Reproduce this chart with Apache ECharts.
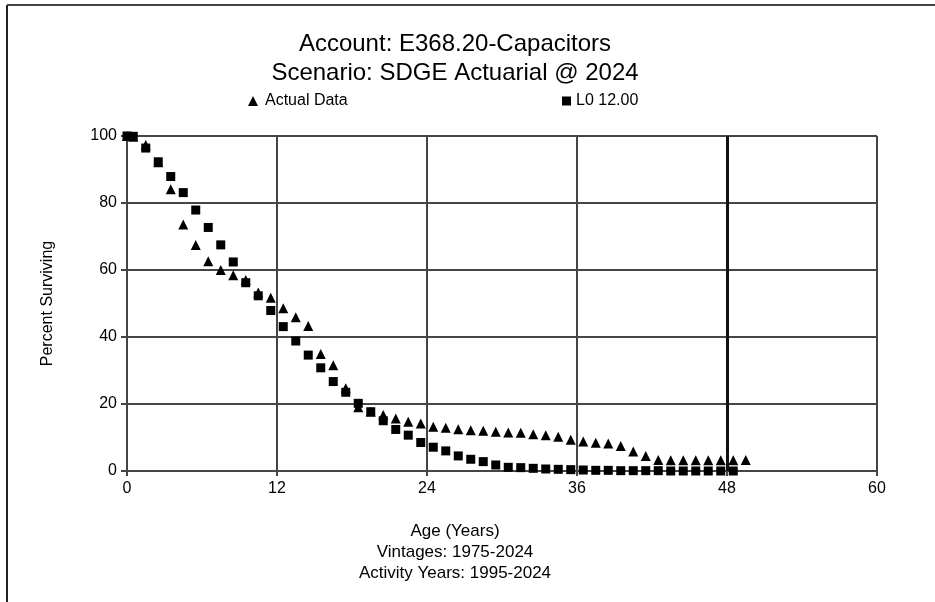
<!DOCTYPE html>
<html>
<head>
<meta charset="utf-8">
<script src="https://cdn.jsdelivr.net/npm/echarts@6/dist/echarts.min.js"></script>
<style>
  html, body { margin: 0; padding: 0; background: #fff; }
  #chart { width: 935px; height: 602px; }
</style>
</head>
<body>
<div id="chart"></div>
<script>
// Observed survivorship (placement band ages, years)
const actualAges = [0, 0.5, 1.5, 2.5, 3.5, 4.5, 5.5, 6.5, 7.5, 8.5, 9.5, 10.5, 11.5, 12.5, 13.5, 14.5,
  15.5, 16.5, 17.5, 18.5, 19.5, 20.5, 21.5, 22.5, 23.5, 24.5, 25.5, 26.5, 27.5, 28.5, 29.5, 30.5,
  31.5, 32.5, 33.5, 34.5, 35.5, 36.5, 37.5, 38.5, 39.5, 40.5, 41.5, 42.5, 43.5, 44.5, 45.5, 46.5,
  47.5, 48.5, 49.5];
const actualPct = [100, 99.8, 97.3, 92.2, 84.1, 73.6, 67.5, 62.6, 60.0, 58.4, 57.0, 53.3, 51.7, 48.6, 45.9, 43.3,
  34.9, 31.6, 24.7, 19.0, 17.7, 16.7, 15.7, 14.7, 14.2, 13.2, 12.9, 12.5, 12.2, 12.0, 11.7, 11.5,
  11.4, 11.0, 10.7, 10.2, 9.3, 8.8, 8.4, 8.2, 7.5, 5.8, 4.5, 3.3, 3.2, 3.2, 3.2, 3.2,
  3.2, 3.2, 3.3];

// Iowa L0 curve, 12.00 year average life
const curveAges = [0, 0.5, 1.5, 2.5, 3.5, 4.5, 5.5, 6.5, 7.5, 8.5, 9.5, 10.5, 11.5, 12.5, 13.5, 14.5,
  15.5, 16.5, 17.5, 18.5, 19.5, 20.5, 21.5, 22.5, 23.5, 24.5, 25.5, 26.5, 27.5, 28.5, 29.5, 30.5,
  31.5, 32.5, 33.5, 34.5, 35.5, 36.5, 37.5, 38.5, 39.5, 40.5, 41.5, 42.5, 43.5, 44.5, 45.5, 46.5,
  47.5, 48.5];
const curvePct = [100, 99.9, 96.4, 92.3, 87.9, 83.1, 77.9, 72.7, 67.5, 62.4, 56.2, 52.3, 47.9, 43.1, 38.8, 34.6,
  30.8, 26.7, 23.5, 20.2, 17.7, 15.0, 12.4, 10.7, 8.5, 7.1, 6.0, 4.5, 3.5, 2.8, 1.8, 1.1,
  1.0, 0.8, 0.6, 0.5, 0.4, 0.3, 0.2, 0.2, 0.1, 0.1, 0.1, 0.1, 0, 0, 0, 0,
  0, 0];

const xTicks = [0, 12, 24, 36, 48, 60];
const yTicks = [0, 20, 40, 60, 80, 100];
const maxAgeLine = 48;

const seriesNames = ['Actual Data', 'L0 12.00'];
const titleLines = ['Account: E368.20-Capacitors', 'Scenario: SDGE Actuarial @ 2024'];
const footLines = ['Age (Years)', 'Vintages: 1975-2024', 'Activity Years: 1995-2024'];

const FONT = '"Liberation Sans", Arial, sans-serif';
const gridColor = '#454545';

const chart = echarts.init(document.getElementById('chart'), null, { renderer: 'canvas' });

const pairs = (xs, ys) => xs.map((x, i) => [x, ys[i]]);

chart.setOption({
  animation: false,
  backgroundColor: '#fff',
  title: [
    {
      text: titleLines.join('\n'),
      left: 450, top: 25, textAlign: 'center',
      textStyle: { fontFamily: FONT, fontSize: 24, fontWeight: 'normal', color: '#000', lineHeight: 29 }
    },
    {
      text: footLines.join('\n'),
      left: 450, top: 516, textAlign: 'center',
      textStyle: { fontFamily: FONT, fontSize: 17, fontWeight: 'normal', color: '#000', lineHeight: 21 }
    }
  ],
  legend: [
    {
      data: [seriesNames[0]], left: 243, top: 88, itemGap: 0,
      itemWidth: 10, itemHeight: 10,
      textStyle: { fontFamily: FONT, fontSize: 16, color: '#000', padding: [0, 0, 0, 2] }
    },
    {
      data: [seriesNames[1]], left: 557, top: 88, itemGap: 0,
      itemWidth: 9, itemHeight: 9,
      textStyle: { fontFamily: FONT, fontSize: 16, color: '#000', padding: [0, 0, 0, 0] }
    }
  ],
  grid: { left: 127, right: 58, top: 136, bottom: 131, containLabel: false },
  xAxis: {
    type: 'value', min: xTicks[0], max: xTicks[xTicks.length - 1], interval: 12,
    axisLine: { show: true, onZero: false, lineStyle: { color: gridColor, width: 2 } },
    axisTick: { show: true, length: 5, lineStyle: { color: gridColor, width: 2 } },
    axisLabel: { fontFamily: FONT, fontSize: 16, color: '#000', margin: 10 },
    splitLine: { show: true, lineStyle: { color: gridColor, width: 2 } }
  },
  yAxis: {
    type: 'value', min: yTicks[0], max: yTicks[yTicks.length - 1], interval: 20,
    name: 'Percent Surviving', nameLocation: 'middle', nameGap: 71, nameRotate: 90,
    nameTextStyle: { fontFamily: FONT, fontSize: 16, color: '#000' },
    axisLine: { show: true, lineStyle: { color: gridColor, width: 2 } },
    axisTick: { show: true, length: 6, lineStyle: { color: gridColor, width: 2 } },
    axisLabel: { fontFamily: FONT, fontSize: 16, color: '#000', margin: 10 },
    splitLine: { show: true, lineStyle: { color: gridColor, width: 2 } }
  },
  graphic: [
    { type: 'line', shape: { x1: 7, y1: 5, x2: 7, y2: 602 }, style: { stroke: '#222', lineWidth: 2 } },
    { type: 'line', shape: { x1: 7, y1: 5, x2: 935, y2: 5 }, style: { stroke: '#444', lineWidth: 2 } }
  ],
  series: [
    {
      name: seriesNames[0], type: 'scatter', symbol: 'triangle', symbolSize: 10,
      itemStyle: { color: '#000', opacity: 1 },
      data: pairs(actualAges, actualPct), z: 3,
      markLine: {
        silent: true, symbol: 'none', label: { show: false },
        lineStyle: { color: '#111', width: 3, type: 'solid' },
        data: [{ xAxis: maxAgeLine }]
      }
    },
    {
      name: seriesNames[1], type: 'scatter', symbol: 'rect', symbolSize: 9,
      itemStyle: { color: '#000', opacity: 1 },
      data: pairs(curveAges, curvePct), z: 2
    }
  ]
});
</script>
</body>
</html>
